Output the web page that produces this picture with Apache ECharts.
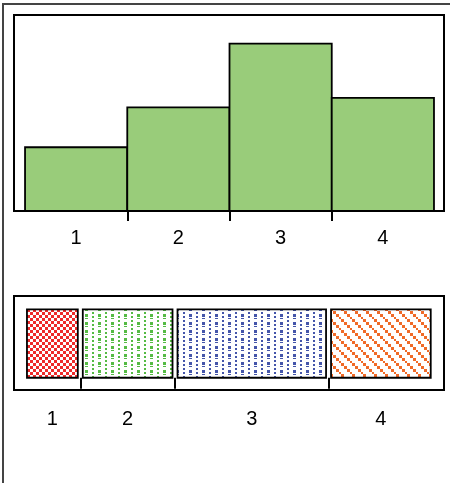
<!DOCTYPE html>
<html>
<head>
<meta charset="utf-8">
<script src="https://cdn.jsdelivr.net/npm/echarts@6/dist/echarts.min.js"></script>
<style>html,body{margin:0;padding:0;background:#fff}#c{width:450px;height:483px}</style>
</head>
<body>
<div id="c"></div>
<script>
// Data
const categories = ['1', '2', '3', '4'];
const barValues = [8, 13, 21, 14.2];
const spineValues = [5.1, 9, 14.9, 10];
const patternColors = ['#EE2A2A', '#55BB44', '#4455AA', '#F06A28'];
const barColor = '#99CC7A';

function makePattern(kind, color) {
  const c = document.createElement('canvas');
  const ctx = c.getContext('2d');
  if (kind === 0) {
    c.width = 6; c.height = 6;
    ctx.fillStyle = '#fff'; ctx.fillRect(0, 0, 6, 6);
    ctx.fillStyle = color;
    ctx.fillRect(0, 0, 3, 3); ctx.fillRect(3, 3, 3, 3);
  } else if (kind === 1 || kind === 2) {
    c.width = 13; c.height = 8;
    ctx.fillStyle = '#fff'; ctx.fillRect(0, 0, 13, 8);
    ctx.fillStyle = color;
    ctx.fillRect(1, 0, 2, 2);
    ctx.fillRect(1, 4, 2, 2);
    ctx.fillRect(7, 2, 3, 3);
    ctx.fillRect(7, 6, 3, 1);
  } else {
    c.width = 11; c.height = 11;
    ctx.fillStyle = '#fff'; ctx.fillRect(0, 0, 11, 11);
    ctx.fillStyle = color;
    for (let k = 0; k < 4; k++) ctx.fillRect(k * 3, k * 3, 3, 3);
  }
  return { image: c, repeat: 'repeat' };
}

// spine layout (cumulative positions with gaps)
const gapU = 0.5;
const spineSegs = [];
let acc = 0;
spineValues.forEach((v, i) => {
  spineSegs.push([acc, acc + v, i]);
  acc += v + gapU;
});
const spineTotal = acc - gapU;
const spineCenters = spineSegs.map(s => (s[0] + s[1]) / 2);
const spineTicks = spineSegs.slice(1).map(s => s[0] - gapU / 2);

const chart = echarts.init(document.getElementById('c'), null, { renderer: 'canvas' });
const font = { fontFamily: 'Liberation Sans, Arial, sans-serif', fontSize: 20, color: '#000' };

chart.setOption({
  animation: false,
  backgroundColor: '#fff',
  graphic: [{
    type: 'rect', shape: { x: 3, y: 4, width: 520, height: 520 },
    style: { fill: 'none', stroke: '#444', lineWidth: 2 }, z: 100
  }],
  grid: [
    { left: 14, right: 6, top: 15, bottom: 272, show: true, borderColor: '#000', borderWidth: 2, backgroundColor: 'transparent', z: 10 },
    { left: 14, right: 6, top: 296, bottom: 93, show: true, borderColor: '#000', borderWidth: 2, backgroundColor: 'transparent', z: 10 }
  ],
  xAxis: [
    {
      type: 'value', gridIndex: 0, min: 0.392, max: 4.598,
      splitLine: { show: false }, axisLine: { show: false },
      axisTick: { show: true, length: 10, customValues: [1.5, 2.5, 3.5], lineStyle: { color: '#000', width: 2 } },
      axisLabel: Object.assign({ margin: 17, customValues: [1, 2, 3, 4], formatter: v => categories[Math.round(v) - 1] }, font)
    },
    {
      type: 'value', gridIndex: 1, min: -1.3, max: spineTotal + 1.33,
      splitLine: { show: false }, axisLine: { show: false },
      axisTick: { show: true, length: 11, customValues: spineTicks, lineStyle: { color: '#000', width: 2 } },
      axisLabel: Object.assign({
        margin: 19, customValues: spineCenters,
        formatter: v => {
          let best = 0;
          spineCenters.forEach((c, i) => { if (Math.abs(c - v) < Math.abs(spineCenters[best] - v)) best = i; });
          return categories[best];
        }
      }, font)
    }
  ],
  yAxis: [
    { type: 'value', gridIndex: 0, min: 0, max: 24.6, show: false, splitLine: { show: false } },
    { type: 'value', gridIndex: 1, min: -0.179, max: 1.194, show: false, splitLine: { show: false } }
  ],
  series: [
    {
      type: 'custom', xAxisIndex: 0, yAxisIndex: 0,
      data: barValues.map((v, i) => [i + 1, v]),
      encode: { x: 0, y: 1 },
      renderItem: (params, api) => {
        const i = api.value(0), v = api.value(1);
        const p0 = api.coord([i - 0.5, 0]);
        const p1 = api.coord([i + 0.5, v]);
        return {
          type: 'rect',
          shape: { x: p0[0], y: p1[1], width: p1[0] - p0[0], height: p0[1] - p1[1] },
          style: { fill: barColor, stroke: '#000', lineWidth: 1.8 }
        };
      }
    },
    {
      type: 'custom', xAxisIndex: 1, yAxisIndex: 1,
      data: spineSegs,
      encode: { x: [0, 1] },
      renderItem: (params, api) => {
        const s = api.value(0), e = api.value(1), idx = api.value(2);
        const p0 = api.coord([s, 0]);
        const p1 = api.coord([e, 1]);
        return {
          type: 'rect',
          shape: { x: p0[0], y: p1[1], width: p1[0] - p0[0], height: p0[1] - p1[1] },
          style: { fill: makePattern(idx, patternColors[idx]), stroke: '#000', lineWidth: 1.8 }
        };
      }
    }
  ]
});
</script>
</body>
</html>
